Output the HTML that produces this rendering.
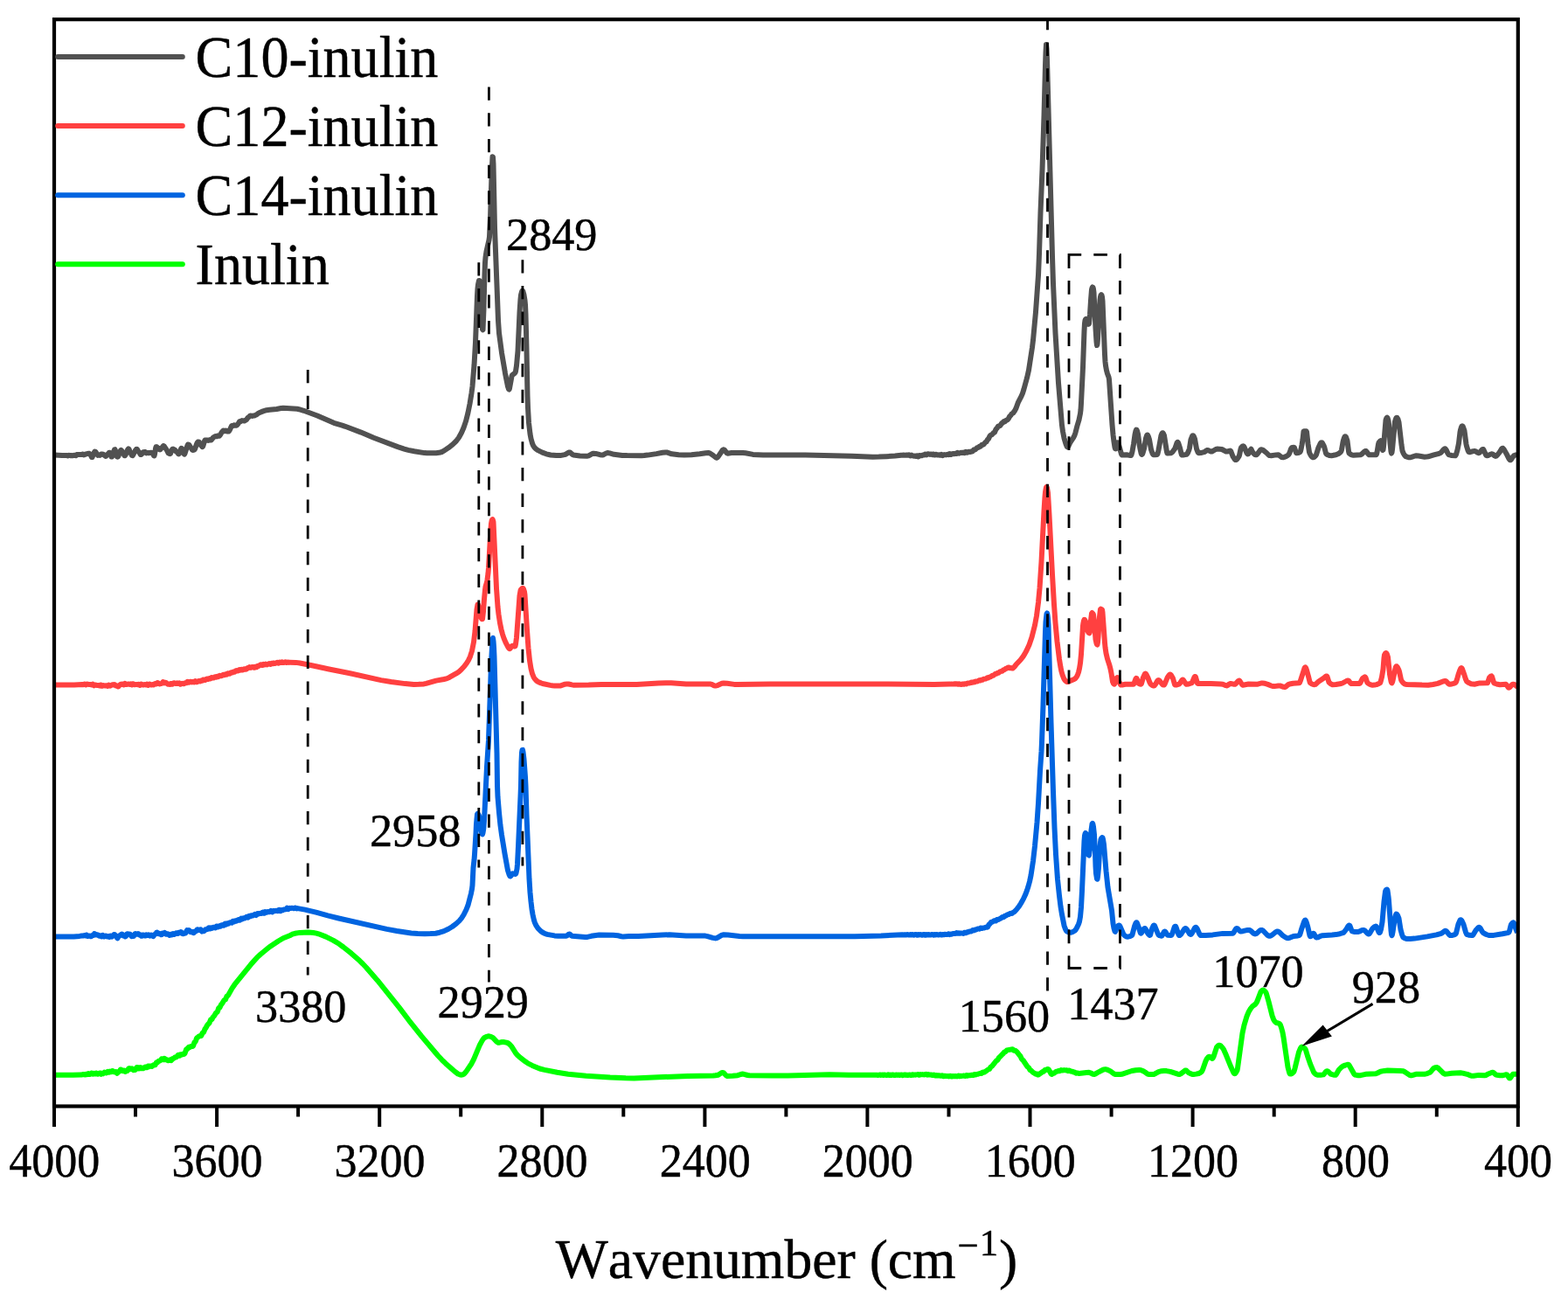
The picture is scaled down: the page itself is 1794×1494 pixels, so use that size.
<!DOCTYPE html>
<html lang="en"><head><meta charset="utf-8"><title>FTIR spectra</title>
<style>html,body{margin:0;padding:0;background:#fff}svg{display:block}text{font-family:"Liberation Serif",serif;fill:#000;stroke:#000;stroke-width:0.45px;stroke-linejoin:round}</style>
</head><body>
<svg width="1794" height="1494" viewBox="0 0 1794 1494">
<rect x="0" y="0" width="1794" height="1494" fill="#ffffff"/>
<path d="M62.0,1265.5 V1289.0 M155.0,1265.5 V1277.5 M248.1,1265.5 V1289.0 M341.1,1265.5 V1277.5 M434.2,1265.5 V1289.0 M527.2,1265.5 V1277.5 M620.3,1265.5 V1289.0 M713.3,1265.5 V1277.5 M806.4,1265.5 V1289.0 M899.4,1265.5 V1277.5 M992.4,1265.5 V1289.0 M1085.5,1265.5 V1277.5 M1178.5,1265.5 V1289.0 M1271.6,1265.5 V1277.5 M1364.6,1265.5 V1289.0 M1457.7,1265.5 V1277.5 M1550.7,1265.5 V1289.0 M1643.8,1265.5 V1277.5 M1736.8,1265.5 V1289.0" stroke="#000" stroke-width="4.0" fill="none"/>
<g font-size="54.3" text-anchor="middle">
<text transform="translate(62.3,1346) scale(0.958,1)">4000</text>
<text transform="translate(248.4,1346) scale(0.958,1)">3600</text>
<text transform="translate(434.5,1346) scale(0.958,1)">3200</text>
<text transform="translate(620.6,1346) scale(0.958,1)">2800</text>
<text transform="translate(806.7,1346) scale(0.958,1)">2400</text>
<text transform="translate(992.7,1346) scale(0.958,1)">2000</text>
<text transform="translate(1178.8,1346) scale(0.958,1)">1600</text>
<text transform="translate(1364.9,1346) scale(0.958,1)">1200</text>
<text transform="translate(1551.0,1346) scale(0.958,1)">800</text>
<text transform="translate(1737.1,1346) scale(0.958,1)">400</text>
</g>
<text x="635.7" y="1462.1" font-size="63.7" style="font-kerning:none">Wavenumber (cm<tspan font-size="43" x="1095.6 1120.8" y="1438.6 1436">−1</tspan><tspan x="1143.1" y="1462.1">)</tspan></text>
<path d="M62.5,520.6 L71.0,521.1 L74.0,521.1 L76.0,520.9 L77.5,521.4 L79.0,520.8 L80.5,521.2 L81.5,521.0 L83.5,521.2 L85.5,520.7 L86.5,521.3 L87.0,521.2 L88.0,520.1 L88.5,519.9 L89.5,520.1 L90.5,519.9 L93.0,520.1 L94.5,519.5 L95.0,519.6 L96.0,520.4 L96.5,520.3 L97.5,519.6 L98.5,519.6 L100.0,518.9 L101.5,518.7 L102.0,518.8 L103.0,519.7 L104.0,521.1 L105.0,523.1 L105.5,523.1 L107.5,518.0 L108.5,516.6 L109.0,516.7 L109.5,517.1 L111.5,520.4 L112.0,520.9 L113.5,520.6 L114.5,520.9 L116.0,519.5 L116.5,519.4 L118.0,519.7 L120.5,521.7 L121.0,521.9 L121.5,521.6 L122.5,520.1 L124.0,519.0 L125.0,517.7 L125.5,517.7 L127.5,522.5 L128.0,522.6 L128.5,521.7 L130.5,515.5 L131.0,514.4 L131.5,514.2 L132.0,515.4 L133.5,521.3 L134.0,522.4 L134.5,522.7 L135.0,522.4 L135.5,521.6 L137.5,516.3 L138.0,515.3 L138.5,514.9 L139.0,515.3 L140.5,517.2 L142.0,520.6 L142.5,521.3 L143.0,521.2 L144.0,519.6 L146.0,514.7 L146.5,513.9 L147.0,513.4 L147.5,513.7 L149.0,517.4 L151.0,521.0 L151.5,521.3 L152.0,520.9 L152.5,520.0 L155.0,515.0 L156.0,513.9 L156.5,513.7 L157.0,514.2 L158.0,516.1 L159.5,517.8 L160.5,519.6 L161.0,520.1 L161.5,520.0 L162.0,519.6 L164.0,517.1 L165.5,516.9 L166.0,517.0 L167.0,518.1 L167.5,518.4 L168.5,517.9 L169.0,517.9 L170.0,518.3 L173.0,517.8 L174.0,517.9 L175.0,519.1 L176.0,521.2 L176.5,521.4 L177.0,519.5 L178.0,513.1 L178.5,511.2 L179.0,511.1 L179.5,511.4 L182.0,513.9 L183.0,514.5 L183.5,514.2 L184.5,512.6 L185.5,511.8 L187.0,510.0 L187.5,510.1 L188.0,510.8 L191.0,515.1 L192.5,518.2 L193.5,518.9 L194.5,519.2 L195.0,518.8 L196.5,515.1 L197.0,514.2 L197.5,513.7 L198.0,513.6 L200.0,514.7 L201.5,516.6 L203.0,517.6 L204.0,519.1 L204.5,519.4 L205.0,519.0 L207.0,513.6 L207.5,512.8 L208.0,513.0 L208.5,513.9 L210.5,519.3 L211.0,519.6 L211.5,518.8 L214.5,509.5 L215.0,508.5 L215.5,508.4 L216.5,509.2 L220.0,514.6 L220.5,514.9 L222.0,514.8 L222.5,514.5 L223.0,513.7 L225.0,507.9 L226.0,506.0 L226.5,505.5 L227.0,505.4 L227.5,505.4 L228.0,505.9 L229.5,509.0 L231.5,511.1 L232.0,510.9 L232.5,509.7 L234.0,504.5 L234.5,503.6 L235.0,503.4 L236.0,503.7 L237.5,503.4 L238.5,503.9 L240.0,503.1 L241.0,503.6 L241.5,503.6 L244.0,500.5 L246.0,499.2 L246.5,499.0 L247.5,499.3 L248.0,499.3 L249.0,498.5 L249.5,498.4 L250.5,498.8 L251.0,498.7 L252.0,497.4 L253.5,494.8 L255.5,492.5 L256.0,492.5 L257.0,493.2 L258.5,492.6 L260.0,493.6 L261.5,493.6 L262.0,493.2 L263.0,491.6 L265.0,487.2 L265.5,486.9 L266.5,487.1 L267.5,486.4 L268.0,486.3 L269.5,486.8 L270.5,486.7 L271.0,486.4 L272.5,484.8 L274.0,482.3 L274.5,481.9 L275.5,482.1 L277.0,481.1 L279.5,481.5 L282.0,480.2 L283.5,477.9 L285.0,476.8 L286.0,475.7 L286.5,475.5 L288.5,475.9 L289.0,475.9 L290.0,475.4 L291.5,475.4 L292.5,474.7 L294.0,474.1 L295.5,472.8 L296.5,472.2 L301.0,470.4 L305.0,469.2 L308.5,468.7 L316.5,468.0 L321.5,467.0 L324.0,466.8 L340.0,467.8 L342.0,468.2 L347.5,469.8 L363.0,475.5 L382.0,483.8 L391.5,486.6 L395.0,487.8 L413.0,494.6 L427.5,500.8 L455.0,511.1 L462.5,513.6 L467.0,514.9 L474.0,516.3 L485.5,518.1 L488.5,518.3 L499.0,518.2 L502.5,517.8 L505.5,517.0 L507.0,516.2 L513.0,512.3 L518.0,508.4 L522.0,504.5 L525.0,500.5 L528.0,495.0 L530.5,489.2 L533.0,481.9 L535.5,472.0 L537.5,462.0 L539.5,449.7 L540.5,442.1 L542.5,417.8 L544.0,392.0 L546.0,338.6 L546.5,330.1 L547.0,325.6 L548.0,320.9 L548.5,320.9 L549.5,328.9 L551.5,369.2 L552.0,376.7 L552.5,377.3 L553.5,353.0 L554.5,313.4 L555.0,300.2 L555.5,294.5 L556.5,287.6 L559.5,274.5 L560.0,271.0 L561.0,249.9 L562.5,200.1 L563.5,179.3 L564.0,179.7 L564.5,187.8 L566.0,260.6 L570.0,366.6 L571.0,381.0 L574.0,403.4 L578.0,427.1 L581.0,442.1 L582.0,445.2 L582.5,445.5 L583.0,444.3 L585.5,430.4 L586.0,429.2 L589.0,426.8 L589.5,426.2 L590.0,424.8 L591.0,418.3 L592.5,401.6 L594.5,357.4 L595.5,342.3 L596.0,337.6 L597.0,333.7 L597.5,332.8 L598.0,332.7 L598.5,333.7 L599.5,337.4 L600.5,343.6 L601.0,348.7 L601.5,359.6 L602.5,400.2 L603.5,452.7 L604.0,466.3 L605.0,483.5 L606.5,496.4 L607.5,501.8 L609.0,507.1 L610.0,509.6 L611.5,511.9 L613.0,513.4 L615.0,514.9 L620.5,517.6 L625.0,519.3 L630.0,520.5 L636.5,521.1 L641.0,521.1 L646.0,520.1 L647.5,519.6 L650.0,517.9 L651.5,517.4 L652.5,517.7 L655.0,519.9 L656.0,520.5 L663.5,521.4 L671.5,521.8 L673.5,521.4 L677.5,519.2 L679.0,518.7 L681.5,518.9 L686.5,520.2 L689.0,520.5 L690.5,520.2 L693.5,518.5 L695.0,518.0 L697.5,518.4 L702.5,519.8 L712.0,520.9 L717.5,521.1 L734.0,521.2 L737.0,521.1 L741.0,520.6 L751.0,519.1 L758.0,517.8 L761.5,517.4 L763.5,517.6 L768.5,519.3 L776.5,520.2 L783.0,520.5 L791.0,520.2 L800.5,519.2 L807.5,518.2 L810.5,518.0 L811.5,518.2 L812.5,518.6 L816.0,521.0 L818.5,523.0 L820.0,523.7 L820.5,523.5 L821.5,522.6 L826.5,515.2 L827.5,514.4 L828.0,514.3 L829.0,514.9 L831.5,518.1 L832.5,518.7 L837.0,518.0 L850.0,518.0 L853.0,518.3 L861.5,519.9 L873.0,520.4 L921.5,520.6 L974.5,521.8 L998.5,522.7 L1005.5,522.6 L1014.0,522.2 L1024.0,521.6 L1031.0,520.8 L1032.5,520.8 L1033.5,520.5 L1035.5,520.7 L1037.5,520.5 L1039.0,520.7 L1040.0,520.3 L1041.5,521.5 L1042.5,520.7 L1043.0,520.6 L1044.0,521.3 L1045.5,521.7 L1047.0,521.5 L1048.0,521.9 L1049.0,521.3 L1049.5,521.4 L1050.5,522.4 L1051.0,522.2 L1052.0,521.1 L1054.5,521.2 L1056.0,520.5 L1057.0,520.6 L1057.5,520.4 L1058.5,519.5 L1060.0,520.4 L1061.5,519.2 L1064.0,519.9 L1065.0,519.6 L1065.5,519.6 L1066.5,520.1 L1067.5,519.4 L1068.0,519.4 L1069.0,520.6 L1069.5,520.6 L1070.5,519.9 L1071.0,519.8 L1073.0,520.6 L1074.5,520.3 L1075.5,520.8 L1076.0,520.7 L1077.0,519.9 L1078.5,521.1 L1080.0,520.2 L1080.5,520.1 L1082.5,520.4 L1083.5,519.9 L1084.0,519.9 L1085.0,520.2 L1086.0,519.2 L1086.5,519.1 L1087.5,520.0 L1088.0,520.0 L1089.0,519.3 L1090.0,519.0 L1091.5,519.3 L1093.0,518.7 L1094.0,519.1 L1094.5,518.9 L1095.5,517.9 L1097.0,518.8 L1099.5,517.7 L1101.0,518.1 L1102.0,517.6 L1103.5,518.1 L1104.5,517.1 L1105.0,516.9 L1106.0,517.7 L1106.5,517.8 L1108.5,516.8 L1109.0,516.7 L1110.0,517.1 L1111.5,516.2 L1112.5,516.5 L1113.0,516.1 L1114.0,514.6 L1114.5,514.4 L1115.5,514.5 L1116.0,514.2 L1118.0,512.2 L1119.5,511.9 L1120.5,510.8 L1122.0,510.7 L1123.0,509.2 L1123.5,508.7 L1124.5,508.7 L1125.5,508.2 L1127.5,505.9 L1128.5,505.4 L1130.0,502.8 L1131.0,502.1 L1132.5,498.8 L1133.0,498.2 L1135.0,497.1 L1136.5,495.3 L1137.5,494.9 L1138.0,494.5 L1139.5,491.0 L1140.5,490.1 L1142.0,487.7 L1144.0,487.1 L1144.5,486.7 L1146.0,484.3 L1147.0,483.8 L1148.0,482.5 L1148.5,482.1 L1149.5,482.5 L1150.0,482.2 L1151.0,481.0 L1153.0,480.0 L1154.0,478.7 L1155.0,476.6 L1156.5,475.0 L1157.5,473.6 L1159.0,472.6 L1161.0,469.9 L1162.5,467.0 L1165.0,460.1 L1168.5,453.4 L1170.0,449.8 L1171.5,445.0 L1175.0,432.3 L1177.0,423.5 L1181.0,397.4 L1182.0,389.2 L1185.0,357.0 L1188.0,314.8 L1189.0,290.1 L1190.5,242.8 L1192.5,194.4 L1194.5,132.4 L1196.0,75.0 L1196.5,60.0 L1197.0,50.9 L1197.5,55.7 L1198.0,68.2 L1204.0,293.5 L1205.0,324.5 L1207.5,381.0 L1211.0,438.0 L1215.0,486.4 L1216.0,493.5 L1217.5,501.3 L1219.5,508.0 L1220.5,510.5 L1221.0,511.2 L1221.5,511.4 L1222.0,511.0 L1222.5,510.3 L1224.5,506.0 L1228.0,500.9 L1229.5,497.9 L1230.5,494.8 L1232.5,487.0 L1234.5,480.4 L1236.0,473.0 L1236.5,468.9 L1237.0,461.0 L1239.0,420.4 L1240.5,378.9 L1241.0,369.9 L1241.5,366.4 L1242.0,365.3 L1242.5,364.9 L1243.0,365.4 L1243.5,366.3 L1245.5,370.8 L1246.0,370.3 L1247.0,360.0 L1248.0,344.0 L1249.0,331.3 L1249.5,329.4 L1250.0,328.5 L1250.5,328.8 L1251.0,330.8 L1251.5,334.7 L1253.5,375.5 L1254.5,390.8 L1255.0,395.1 L1255.5,393.5 L1256.0,387.3 L1258.5,343.3 L1259.0,339.6 L1259.5,337.9 L1260.0,337.1 L1260.5,337.7 L1261.0,339.8 L1261.5,344.4 L1264.0,405.3 L1264.5,413.8 L1265.0,418.1 L1266.0,423.7 L1267.0,427.4 L1268.5,431.3 L1269.0,434.1 L1272.5,485.7 L1273.5,497.3 L1274.5,505.3 L1275.5,511.7 L1276.0,513.3 L1276.5,513.4 L1277.0,512.1 L1278.5,506.3 L1279.0,506.2 L1279.5,507.1 L1280.0,508.7 L1283.0,519.4 L1283.5,520.4 L1284.0,520.6 L1289.0,520.3 L1293.5,521.1 L1294.0,521.1 L1294.5,520.2 L1295.5,516.4 L1297.0,507.9 L1298.5,497.1 L1299.5,492.8 L1300.0,491.6 L1300.5,491.7 L1301.0,492.8 L1302.0,496.5 L1303.5,507.9 L1304.5,513.5 L1305.5,518.2 L1306.0,519.6 L1306.5,519.9 L1307.0,519.4 L1307.5,518.3 L1309.0,513.2 L1311.0,501.5 L1312.0,498.4 L1312.5,497.5 L1313.0,497.5 L1314.0,499.5 L1315.0,502.8 L1317.0,514.3 L1318.5,518.6 L1319.5,520.2 L1321.5,520.2 L1324.0,519.9 L1324.5,519.1 L1325.5,514.9 L1328.5,498.1 L1329.5,495.8 L1330.0,495.2 L1330.5,495.3 L1331.0,496.0 L1332.0,498.3 L1335.0,516.9 L1335.5,518.5 L1336.0,518.6 L1340.0,518.2 L1341.5,517.1 L1344.0,513.6 L1344.5,512.6 L1346.5,506.8 L1347.0,505.9 L1347.5,505.8 L1348.0,506.4 L1348.5,507.6 L1350.0,512.3 L1351.5,518.7 L1352.0,520.2 L1352.5,520.6 L1353.5,520.6 L1357.5,519.9 L1358.0,519.5 L1359.0,518.0 L1360.5,514.3 L1361.0,512.5 L1362.5,502.8 L1364.0,499.0 L1364.5,498.4 L1365.0,498.2 L1365.5,498.6 L1366.0,499.5 L1367.0,502.1 L1369.0,513.3 L1370.5,517.1 L1371.0,517.9 L1371.5,518.2 L1374.0,518.1 L1377.5,517.2 L1378.5,516.7 L1380.5,515.3 L1381.5,514.9 L1382.5,515.1 L1385.0,516.4 L1386.5,516.5 L1388.0,515.8 L1391.0,514.0 L1392.5,513.6 L1398.0,514.0 L1402.0,516.2 L1403.0,516.6 L1404.0,516.5 L1407.5,515.6 L1408.0,515.9 L1408.5,516.7 L1410.5,522.0 L1411.0,522.9 L1413.0,525.8 L1413.5,526.1 L1414.0,526.1 L1414.5,525.9 L1415.5,525.1 L1417.5,522.1 L1418.0,520.8 L1419.5,513.6 L1420.0,512.1 L1421.5,510.6 L1422.5,510.2 L1423.0,510.5 L1423.5,511.3 L1426.5,518.2 L1427.0,519.0 L1427.5,519.4 L1428.0,519.3 L1428.5,518.8 L1430.5,514.9 L1431.5,513.7 L1432.5,516.1 L1434.0,518.4 L1435.5,519.8 L1437.0,520.3 L1437.5,520.2 L1438.5,519.5 L1442.0,514.8 L1443.0,514.3 L1443.5,514.3 L1444.5,514.6 L1446.0,515.6 L1449.0,518.0 L1451.5,520.5 L1452.5,521.1 L1454.5,521.2 L1460.0,520.4 L1462.5,520.3 L1463.5,520.8 L1466.5,523.1 L1468.0,523.2 L1469.5,522.9 L1471.0,522.3 L1473.0,521.2 L1474.5,520.0 L1475.5,517.9 L1477.0,513.6 L1478.0,511.9 L1480.5,511.8 L1481.0,512.1 L1483.0,518.1 L1483.5,518.3 L1485.0,518.1 L1486.5,517.6 L1487.5,517.1 L1488.0,516.0 L1488.5,514.1 L1489.5,509.0 L1490.5,502.8 L1491.5,493.7 L1492.0,493.2 L1494.5,493.2 L1495.0,493.9 L1496.5,507.4 L1498.0,517.2 L1498.5,518.6 L1500.0,521.4 L1501.0,522.6 L1502.0,523.2 L1502.5,523.3 L1503.5,522.9 L1505.5,521.1 L1506.0,520.0 L1508.5,512.0 L1510.5,507.7 L1511.5,506.4 L1512.0,506.2 L1512.5,506.4 L1513.0,506.9 L1514.5,509.6 L1515.5,512.5 L1517.0,518.6 L1517.5,519.3 L1518.5,520.0 L1521.0,521.1 L1523.5,521.2 L1528.5,520.3 L1531.5,519.0 L1533.0,517.9 L1534.5,516.2 L1535.0,514.6 L1536.5,505.7 L1537.0,503.8 L1538.0,500.8 L1538.5,499.7 L1539.0,499.2 L1539.5,499.4 L1540.0,500.1 L1541.5,504.3 L1543.0,516.2 L1543.5,518.3 L1545.5,519.9 L1547.0,520.5 L1548.5,520.7 L1556.5,520.3 L1558.0,519.5 L1561.0,516.6 L1562.0,516.0 L1562.5,515.9 L1563.0,516.0 L1563.5,516.5 L1565.5,519.5 L1566.5,520.3 L1574.5,520.3 L1575.0,519.6 L1575.5,517.5 L1577.0,508.3 L1577.5,506.4 L1579.0,504.5 L1579.5,504.2 L1580.0,504.9 L1581.5,513.2 L1582.0,515.0 L1582.5,514.6 L1583.0,510.8 L1585.5,480.7 L1586.0,479.1 L1586.5,478.1 L1587.0,477.7 L1587.5,478.2 L1588.0,479.5 L1588.5,481.5 L1589.0,485.3 L1590.5,506.9 L1591.5,516.6 L1592.0,518.6 L1592.5,517.5 L1593.0,514.1 L1596.0,482.4 L1597.0,479.2 L1597.5,478.2 L1598.0,477.7 L1598.5,477.9 L1599.5,479.6 L1600.5,483.0 L1603.5,508.8 L1604.5,515.6 L1605.5,518.2 L1607.0,520.8 L1608.5,522.2 L1610.5,522.9 L1612.0,523.2 L1613.5,523.2 L1615.0,522.9 L1619.0,521.5 L1620.5,521.3 L1623.0,521.5 L1630.0,522.7 L1632.0,522.6 L1634.0,522.3 L1640.5,520.4 L1645.5,519.1 L1648.0,518.2 L1649.0,517.4 L1651.5,514.3 L1652.5,513.5 L1653.0,513.3 L1653.5,513.3 L1654.5,514.4 L1656.5,518.6 L1657.5,520.1 L1658.5,520.4 L1661.0,521.0 L1665.0,521.3 L1665.5,520.8 L1666.0,519.9 L1667.5,514.7 L1669.0,507.2 L1670.5,494.4 L1671.0,491.9 L1672.0,488.5 L1672.5,487.5 L1673.0,487.2 L1673.5,487.5 L1674.0,488.4 L1675.5,492.8 L1677.5,508.0 L1678.0,510.4 L1679.5,515.2 L1680.5,517.0 L1681.0,517.3 L1682.0,517.2 L1685.5,516.1 L1687.0,515.9 L1688.0,516.1 L1691.0,518.0 L1692.0,518.3 L1693.0,517.7 L1695.5,514.5 L1696.5,513.9 L1697.0,514.0 L1697.5,514.6 L1700.0,520.3 L1700.5,521.0 L1701.0,521.3 L1702.5,521.0 L1705.5,519.6 L1707.0,519.3 L1708.0,519.6 L1710.0,521.4 L1711.0,521.9 L1712.0,521.6 L1713.5,520.1 L1715.5,517.7 L1718.0,513.4 L1719.0,512.7 L1719.5,512.8 L1720.5,513.8 L1723.5,518.9 L1726.5,524.9 L1727.5,526.1 L1728.0,526.3 L1728.5,526.2 L1729.0,525.7 L1731.0,522.5 L1732.0,521.3 L1734.0,520.5 L1736.0,520.3" fill="none" stroke="#515151" stroke-width="6.0" stroke-linejoin="round" stroke-linecap="butt"/>
<path d="M62.5,783.5 L85.0,783.5 L94.0,783.1 L95.5,783.2 L96.5,782.6 L97.0,782.6 L98.0,783.4 L98.5,783.4 L99.5,782.6 L100.0,782.6 L102.0,783.0 L103.5,782.9 L104.5,783.5 L105.0,783.3 L106.0,782.6 L107.5,784.3 L109.0,783.5 L111.5,784.1 L112.5,783.9 L113.5,784.4 L114.0,784.5 L115.0,783.5 L115.5,783.5 L116.5,784.8 L117.0,784.8 L118.0,784.1 L118.5,784.1 L120.5,784.5 L122.0,784.2 L123.0,784.9 L123.5,784.7 L124.5,783.6 L126.0,784.7 L128.0,783.5 L129.0,783.3 L130.0,783.4 L131.0,783.0 L131.5,783.3 L132.5,784.5 L133.5,784.2 L134.0,784.4 L135.0,785.5 L135.5,785.4 L137.0,783.6 L138.0,782.8 L139.0,783.0 L140.0,782.6 L140.5,782.6 L141.5,783.4 L142.0,783.2 L143.0,782.0 L144.5,783.1 L147.0,782.4 L148.5,782.9 L149.5,782.4 L150.5,783.3 L151.0,783.5 L152.0,782.3 L152.5,782.2 L153.5,783.1 L154.0,783.3 L156.5,782.9 L157.5,783.3 L158.5,782.8 L159.0,782.9 L160.0,783.9 L160.5,783.7 L161.5,782.6 L163.5,783.5 L164.5,783.4 L165.5,782.9 L166.5,783.4 L167.0,783.4 L168.0,782.7 L169.0,783.7 L169.5,783.9 L170.5,782.8 L171.0,782.6 L173.0,783.5 L173.5,783.5 L174.5,783.0 L175.0,783.0 L176.0,783.4 L177.0,782.2 L177.5,782.0 L178.5,782.5 L180.0,781.1 L180.5,781.1 L182.5,782.4 L183.0,782.4 L184.0,781.9 L185.0,782.0 L186.5,780.1 L187.0,780.3 L188.0,781.3 L189.0,780.7 L189.5,780.7 L192.0,782.7 L193.0,782.4 L194.5,783.0 L195.5,782.0 L196.0,781.9 L197.0,782.8 L197.5,782.6 L198.5,781.5 L199.5,781.3 L201.0,781.9 L201.5,781.9 L202.5,781.4 L203.5,782.1 L204.0,782.0 L205.0,781.3 L206.5,782.7 L208.5,781.8 L210.5,782.3 L211.5,781.4 L212.0,781.2 L213.0,781.3 L214.0,780.0 L214.5,779.8 L215.5,780.7 L216.0,780.7 L218.0,779.7 L218.5,779.7 L219.5,780.4 L220.0,780.3 L221.0,779.7 L222.0,780.4 L222.5,780.2 L223.5,779.2 L225.0,780.3 L225.5,780.1 L227.5,778.9 L229.0,779.4 L230.0,778.5 L230.5,778.5 L231.0,778.8 L231.5,778.8 L232.5,777.6 L233.0,777.4 L234.0,778.1 L234.5,778.1 L235.5,777.5 L236.5,776.6 L237.0,776.5 L238.0,777.0 L239.5,776.0 L240.5,776.5 L241.0,776.3 L242.0,775.1 L242.5,775.1 L243.5,775.6 L244.0,775.6 L244.5,775.4 L246.0,774.2 L247.5,774.7 L248.5,773.8 L250.0,774.2 L251.0,773.0 L251.5,772.8 L252.5,773.2 L253.5,773.3 L254.0,773.0 L255.0,772.0 L255.5,771.8 L256.5,772.3 L258.0,771.3 L259.0,771.8 L259.5,771.6 L260.5,770.4 L261.0,770.3 L262.5,770.7 L263.0,770.7 L264.5,769.2 L265.0,769.2 L265.5,769.5 L266.0,769.5 L267.0,768.5 L267.5,768.5 L268.0,768.8 L268.5,768.8 L270.0,767.2 L270.5,767.1 L272.0,767.5 L272.5,767.4 L273.5,766.2 L274.0,766.0 L275.0,766.6 L276.0,765.9 L276.5,765.8 L277.5,766.5 L278.0,766.4 L279.0,765.4 L279.5,765.3 L281.5,765.8 L282.0,765.5 L283.0,764.1 L283.5,764.0 L284.0,764.2 L284.5,764.1 L285.5,763.1 L287.0,763.9 L288.0,763.2 L289.0,762.9 L289.5,763.0 L290.5,763.7 L291.0,763.8 L292.0,762.8 L292.5,762.7 L293.5,763.2 L295.0,761.8 L296.0,762.0 L297.5,760.8 L298.5,760.3 L299.0,760.4 L300.0,761.1 L300.5,760.9 L301.5,759.9 L302.5,760.4 L303.0,760.4 L304.0,759.6 L305.5,760.4 L307.5,759.2 L308.0,759.1 L309.0,759.8 L309.5,760.0 L310.5,758.9 L311.0,758.8 L312.0,759.3 L313.0,758.5 L313.5,758.4 L314.5,759.0 L315.0,759.0 L317.0,757.8 L317.5,757.8 L318.5,758.7 L319.0,758.6 L320.0,757.6 L321.0,758.0 L321.5,758.0 L322.5,757.3 L324.0,758.0 L325.0,757.9 L326.5,757.2 L328.0,758.0 L329.0,757.6 L329.5,757.6 L330.5,757.9 L331.5,757.7 L338.5,757.9 L343.0,758.5 L358.0,761.5 L376.5,765.5 L400.5,770.2 L436.0,778.1 L447.5,780.0 L463.5,782.1 L473.5,782.9 L479.0,782.8 L485.0,782.4 L487.5,781.8 L499.0,778.6 L508.0,777.0 L511.5,776.1 L514.5,774.7 L522.0,770.4 L525.0,768.4 L527.5,766.2 L531.0,762.5 L534.0,758.5 L536.0,755.2 L538.0,750.9 L540.0,744.7 L542.0,734.5 L543.5,722.2 L545.5,697.2 L546.5,691.5 L547.0,691.7 L547.5,693.4 L549.5,703.5 L550.0,705.3 L551.0,707.7 L551.5,708.3 L552.0,708.1 L553.0,699.5 L554.0,685.2 L555.0,674.7 L555.5,671.2 L557.0,666.1 L557.5,663.5 L558.5,655.7 L559.0,649.7 L561.5,605.2 L562.0,599.0 L562.5,596.2 L563.0,594.5 L563.5,594.1 L564.0,595.2 L564.5,597.3 L568.0,673.1 L569.5,694.1 L570.5,702.9 L572.0,712.6 L573.5,719.9 L575.0,725.6 L576.5,730.1 L578.5,734.9 L581.5,740.7 L582.5,741.9 L583.0,742.2 L583.5,742.1 L585.5,739.0 L586.0,738.7 L589.0,739.5 L589.5,739.1 L590.0,736.9 L591.0,729.3 L594.5,681.5 L595.5,675.7 L596.0,674.4 L597.5,673.0 L598.0,672.8 L598.5,673.0 L599.0,673.9 L600.0,677.0 L600.5,680.4 L603.0,720.6 L604.5,741.3 L606.0,755.5 L607.5,764.8 L609.0,770.7 L610.5,774.4 L611.5,776.1 L613.0,777.9 L615.0,779.6 L616.5,780.4 L619.0,781.4 L622.0,782.3 L629.5,783.9 L632.0,784.3 L634.5,784.5 L641.5,784.4 L646.5,782.7 L648.5,782.4 L650.5,782.5 L654.5,783.4 L656.5,783.7 L673.5,783.6 L688.0,782.9 L720.0,782.9 L728.5,783.0 L753.5,781.4 L762.0,781.2 L768.0,781.3 L785.0,782.4 L812.5,782.4 L814.0,782.8 L817.0,784.3 L818.5,784.6 L821.0,784.1 L826.0,781.8 L828.0,781.5 L832.0,781.8 L840.0,782.9 L843.5,783.1 L881.0,782.4 L1009.5,782.4 L1069.0,783.1 L1087.0,782.6 L1088.5,782.4 L1090.0,782.6 L1092.5,782.2 L1094.0,782.6 L1095.0,782.3 L1096.5,782.8 L1097.5,782.3 L1099.5,783.0 L1100.5,782.8 L1101.5,782.4 L1103.0,782.8 L1104.0,782.3 L1104.5,782.2 L1105.5,782.4 L1107.0,781.4 L1109.0,781.6 L1111.0,780.6 L1112.0,780.9 L1112.5,780.8 L1113.5,780.2 L1114.5,780.4 L1115.0,780.3 L1116.0,779.5 L1118.5,779.4 L1120.0,778.3 L1121.5,778.5 L1122.5,777.8 L1124.0,777.8 L1125.5,776.7 L1128.0,776.5 L1129.5,775.3 L1130.5,775.5 L1132.0,774.5 L1133.0,774.5 L1133.5,774.2 L1135.0,773.0 L1137.0,772.5 L1138.5,771.0 L1140.0,770.8 L1141.0,769.9 L1142.5,769.7 L1144.5,768.1 L1146.5,767.8 L1148.0,766.3 L1149.0,766.3 L1150.5,765.0 L1151.5,764.8 L1153.5,763.4 L1154.5,763.5 L1155.5,764.2 L1156.0,764.3 L1157.0,764.1 L1158.5,764.6 L1159.0,764.3 L1160.5,762.9 L1162.5,760.3 L1167.5,755.0 L1170.5,751.1 L1172.5,747.9 L1174.5,744.3 L1177.5,737.7 L1180.5,729.1 L1184.0,715.3 L1186.0,704.5 L1188.0,689.1 L1189.5,673.0 L1191.5,642.9 L1194.5,584.1 L1195.5,568.5 L1196.0,563.1 L1196.5,560.0 L1197.0,557.7 L1197.5,556.9 L1198.0,558.0 L1199.0,563.9 L1200.5,589.1 L1204.0,657.4 L1206.0,691.5 L1207.5,712.4 L1209.5,733.9 L1212.0,754.2 L1213.5,763.4 L1214.5,768.3 L1215.5,771.8 L1217.0,775.8 L1218.0,777.6 L1219.0,778.8 L1220.5,780.1 L1221.5,780.1 L1222.5,779.8 L1225.0,778.6 L1228.5,777.3 L1230.0,776.4 L1231.0,775.3 L1232.0,773.8 L1233.0,771.8 L1234.0,769.0 L1235.0,764.8 L1236.0,758.6 L1237.0,748.4 L1239.0,716.0 L1239.5,712.5 L1240.0,710.1 L1240.5,708.9 L1241.0,709.0 L1241.5,709.6 L1243.0,713.3 L1244.5,721.9 L1245.5,723.7 L1246.5,724.4 L1247.0,722.9 L1248.0,709.9 L1249.0,701.8 L1249.5,701.0 L1250.5,702.0 L1251.0,703.0 L1252.0,711.1 L1253.5,731.4 L1254.5,735.9 L1255.0,737.2 L1255.5,737.5 L1256.0,734.5 L1256.5,728.9 L1258.0,705.6 L1259.0,697.1 L1259.5,696.6 L1260.5,697.1 L1261.0,697.5 L1261.5,700.6 L1264.0,735.1 L1264.5,740.5 L1265.5,747.2 L1267.0,753.6 L1269.5,761.3 L1270.5,765.2 L1271.5,770.1 L1273.0,779.7 L1274.0,781.9 L1274.5,782.6 L1275.0,782.7 L1275.5,781.6 L1276.5,777.9 L1277.5,775.8 L1278.0,775.1 L1278.5,775.0 L1279.0,775.9 L1280.0,779.0 L1281.0,781.2 L1282.0,783.1 L1282.5,783.6 L1284.0,783.5 L1287.5,782.8 L1296.5,782.8 L1297.0,782.6 L1297.5,781.8 L1299.5,776.4 L1300.0,775.8 L1300.5,776.1 L1301.0,777.3 L1302.5,781.6 L1304.0,782.5 L1305.5,782.7 L1306.0,781.9 L1308.0,774.9 L1309.5,771.7 L1310.0,770.9 L1310.5,770.6 L1311.0,770.8 L1312.0,772.4 L1313.5,775.6 L1315.5,780.8 L1316.5,782.6 L1318.5,784.1 L1320.0,784.5 L1320.5,784.4 L1321.0,784.1 L1322.0,782.7 L1324.0,779.2 L1325.0,778.2 L1325.5,778.1 L1326.0,778.2 L1327.0,779.1 L1329.5,782.3 L1330.5,783.3 L1331.5,783.6 L1332.0,783.4 L1333.0,781.7 L1335.5,775.5 L1337.5,772.4 L1338.5,771.5 L1339.0,771.5 L1340.0,772.4 L1342.0,776.0 L1344.0,783.0 L1344.5,783.6 L1346.5,783.4 L1349.0,782.7 L1350.0,781.7 L1352.0,778.5 L1353.0,777.6 L1353.5,777.6 L1354.0,778.0 L1356.5,782.0 L1357.5,782.8 L1360.0,782.5 L1363.0,781.5 L1363.5,781.3 L1364.0,780.7 L1366.5,774.7 L1367.0,774.0 L1367.5,773.9 L1368.0,774.7 L1370.0,781.6 L1370.5,782.0 L1385.5,782.1 L1396.5,782.6 L1399.0,782.8 L1402.0,784.1 L1403.5,784.4 L1404.5,784.0 L1406.5,782.5 L1407.5,782.1 L1409.0,782.1 L1412.0,782.7 L1413.0,782.7 L1414.0,782.0 L1416.5,779.1 L1417.5,778.6 L1418.0,778.6 L1418.5,779.0 L1421.0,783.0 L1421.5,783.5 L1422.0,783.7 L1428.5,782.5 L1439.0,782.7 L1443.0,781.5 L1444.5,781.4 L1446.5,781.7 L1450.5,782.9 L1454.5,784.5 L1456.0,785.0 L1458.0,785.1 L1462.5,784.5 L1464.5,784.4 L1468.5,785.8 L1470.0,786.0 L1470.5,785.9 L1471.5,785.3 L1474.0,783.1 L1475.5,782.5 L1479.5,781.7 L1486.5,781.3 L1487.0,780.8 L1488.0,778.4 L1492.5,764.3 L1493.0,763.5 L1493.5,763.3 L1494.0,763.9 L1495.0,766.6 L1497.0,773.7 L1498.5,779.9 L1499.0,781.1 L1500.5,782.2 L1502.5,783.0 L1504.0,783.2 L1505.0,782.9 L1508.5,779.8 L1514.5,775.7 L1516.5,774.0 L1517.5,773.5 L1518.0,773.4 L1518.5,774.1 L1520.5,780.5 L1522.5,782.3 L1524.5,783.2 L1528.5,783.0 L1534.5,782.0 L1536.0,781.5 L1540.5,779.0 L1542.5,778.5 L1543.0,778.7 L1543.5,779.2 L1545.0,781.3 L1546.0,782.0 L1555.5,782.0 L1556.0,781.7 L1556.5,780.9 L1558.5,776.7 L1560.0,775.2 L1561.5,774.3 L1562.0,774.5 L1562.5,775.3 L1564.0,779.9 L1564.5,781.0 L1565.0,781.5 L1567.0,782.7 L1569.0,783.5 L1570.5,783.7 L1572.5,783.6 L1575.0,783.1 L1577.0,782.3 L1579.0,781.2 L1579.5,780.3 L1581.0,774.6 L1582.5,765.5 L1583.5,752.7 L1584.0,749.2 L1585.0,747.4 L1585.5,747.0 L1586.0,747.0 L1586.5,747.5 L1587.0,748.5 L1588.0,751.8 L1590.0,771.2 L1591.5,779.3 L1592.0,780.9 L1592.5,781.3 L1593.0,780.4 L1593.5,778.6 L1596.5,764.7 L1597.0,762.9 L1597.5,762.2 L1598.0,762.3 L1599.0,763.5 L1600.5,766.6 L1601.0,768.1 L1603.0,777.5 L1603.5,778.7 L1605.0,780.7 L1606.5,782.1 L1608.0,782.7 L1610.0,782.9 L1627.0,783.6 L1634.0,783.7 L1639.5,783.0 L1645.0,781.9 L1651.0,779.5 L1653.5,779.0 L1654.0,779.0 L1655.0,779.7 L1657.0,781.9 L1658.0,782.7 L1659.0,782.7 L1661.0,782.5 L1664.0,781.6 L1665.5,780.8 L1666.0,780.1 L1667.0,777.2 L1668.5,771.7 L1670.0,767.5 L1671.0,765.1 L1671.5,764.3 L1672.0,764.0 L1672.5,764.4 L1673.0,765.3 L1675.5,772.3 L1677.0,777.1 L1678.0,779.3 L1680.0,780.8 L1683.0,782.2 L1685.0,782.6 L1687.0,782.7 L1693.0,781.4 L1701.5,781.3 L1702.0,781.2 L1704.0,775.1 L1705.5,773.7 L1706.5,773.4 L1707.0,774.1 L1707.5,775.5 L1709.0,780.7 L1709.5,781.4 L1711.0,782.0 L1713.5,782.8 L1716.0,783.2 L1723.0,782.8 L1724.0,783.8 L1725.5,786.2 L1726.0,786.6 L1726.5,786.7 L1727.5,786.1 L1730.0,783.2 L1731.0,782.7 L1732.5,783.0 L1733.5,783.5 L1735.5,785.3 L1736.0,785.6" fill="none" stroke="#FF4040" stroke-width="6.0" stroke-linejoin="round" stroke-linecap="butt"/>
<path d="M62.5,1071.4 L84.5,1071.4 L91.0,1070.9 L93.5,1070.5 L95.0,1070.5 L96.5,1070.1 L97.5,1070.4 L98.5,1069.6 L99.0,1069.5 L100.0,1070.8 L100.5,1071.1 L102.0,1070.4 L103.0,1070.6 L104.0,1071.3 L104.5,1071.1 L105.5,1069.9 L106.5,1070.1 L107.0,1069.6 L108.0,1068.0 L108.5,1068.2 L109.5,1069.6 L110.0,1069.6 L111.0,1069.3 L112.0,1069.5 L113.5,1070.8 L114.5,1070.3 L115.0,1070.4 L116.0,1071.3 L117.0,1070.1 L117.5,1069.9 L118.5,1071.3 L119.0,1071.5 L121.0,1070.5 L121.5,1070.6 L122.5,1071.5 L123.0,1071.5 L124.0,1071.0 L125.0,1072.0 L125.5,1071.9 L126.5,1070.6 L128.0,1071.6 L128.5,1071.3 L130.5,1068.9 L131.0,1068.9 L132.0,1070.2 L133.0,1070.9 L134.0,1072.8 L134.5,1073.3 L136.0,1070.6 L137.0,1070.3 L139.5,1068.5 L140.0,1068.8 L141.0,1070.4 L141.5,1070.7 L142.5,1070.5 L143.5,1071.4 L144.0,1071.0 L145.0,1068.7 L145.5,1068.3 L149.0,1068.8 L150.5,1071.1 L151.5,1070.5 L152.0,1070.5 L152.5,1070.9 L153.0,1070.9 L154.0,1068.8 L154.5,1068.2 L155.0,1068.0 L157.0,1068.7 L158.0,1068.1 L158.5,1068.2 L159.5,1069.6 L160.0,1069.7 L160.5,1069.4 L161.0,1069.5 L162.0,1070.8 L162.5,1070.7 L163.5,1069.5 L164.0,1069.4 L166.0,1070.6 L166.5,1070.4 L167.5,1069.3 L169.0,1070.1 L170.0,1069.2 L170.5,1069.5 L171.5,1070.6 L173.0,1069.6 L174.0,1070.0 L175.0,1070.9 L175.5,1071.1 L177.0,1068.9 L178.0,1068.6 L179.0,1066.9 L179.5,1066.6 L180.5,1067.9 L181.0,1068.2 L182.0,1067.8 L182.5,1067.8 L184.5,1069.3 L185.0,1069.1 L186.0,1067.6 L186.5,1067.6 L187.0,1068.0 L187.5,1068.0 L188.5,1067.0 L189.0,1067.4 L190.0,1068.7 L192.0,1068.3 L192.5,1068.5 L193.5,1069.7 L194.0,1070.0 L195.0,1068.9 L195.5,1068.7 L196.5,1069.4 L197.5,1068.3 L198.0,1068.1 L199.0,1068.9 L199.5,1068.9 L201.5,1067.3 L202.0,1067.3 L203.0,1068.1 L203.5,1068.0 L204.5,1066.7 L205.0,1066.8 L205.5,1067.2 L206.0,1067.2 L207.0,1066.1 L207.5,1066.4 L208.5,1067.9 L209.0,1068.2 L210.0,1068.2 L211.0,1067.6 L212.0,1067.6 L212.5,1067.3 L213.5,1064.9 L214.0,1064.2 L215.0,1064.7 L216.0,1064.1 L216.5,1064.2 L218.0,1066.2 L219.0,1066.5 L220.0,1066.0 L220.5,1066.1 L221.5,1067.2 L222.0,1067.0 L223.0,1065.4 L224.0,1065.4 L224.5,1065.0 L225.5,1063.4 L226.0,1063.3 L227.0,1063.8 L228.0,1064.0 L229.5,1063.3 L231.0,1065.5 L232.0,1064.8 L232.5,1064.8 L233.0,1065.2 L233.5,1065.2 L235.0,1063.3 L237.0,1063.3 L237.5,1063.0 L238.5,1061.6 L239.0,1061.4 L240.0,1062.4 L240.5,1062.4 L241.5,1061.3 L242.5,1061.9 L243.0,1061.8 L244.0,1060.7 L244.5,1060.7 L246.5,1061.4 L247.0,1061.0 L248.0,1059.5 L248.5,1059.6 L249.0,1060.2 L249.5,1060.5 L250.5,1059.4 L251.0,1059.3 L252.0,1059.7 L253.5,1058.3 L254.5,1058.3 L255.5,1058.8 L256.0,1058.7 L257.0,1057.1 L257.5,1056.7 L258.5,1057.6 L259.0,1057.4 L260.0,1056.4 L261.0,1056.8 L261.5,1056.6 L262.5,1055.5 L263.0,1055.2 L264.0,1055.2 L265.0,1055.8 L265.5,1055.4 L266.5,1053.7 L267.0,1053.7 L267.5,1054.3 L268.0,1054.4 L269.0,1053.4 L269.5,1053.3 L270.5,1053.7 L272.5,1052.1 L273.0,1052.0 L274.0,1052.7 L274.5,1052.8 L275.5,1051.1 L276.0,1050.6 L277.0,1051.4 L277.5,1051.2 L278.5,1050.2 L279.5,1050.6 L280.0,1050.4 L282.0,1048.8 L282.5,1048.8 L283.5,1049.7 L284.0,1049.5 L285.0,1047.7 L285.5,1047.7 L286.0,1048.2 L286.5,1048.3 L287.5,1047.3 L289.0,1047.6 L291.5,1045.9 L293.0,1047.0 L294.0,1045.5 L294.5,1045.0 L295.5,1045.7 L297.0,1044.8 L298.0,1045.1 L298.5,1045.1 L299.5,1044.5 L300.5,1043.6 L301.0,1043.5 L302.0,1044.8 L302.5,1044.7 L303.5,1043.1 L304.0,1043.2 L304.5,1043.6 L305.0,1043.7 L306.0,1043.0 L307.5,1043.3 L308.0,1043.3 L309.0,1042.8 L310.0,1041.8 L310.5,1042.1 L311.0,1042.9 L311.5,1043.3 L312.5,1042.0 L313.0,1041.7 L314.0,1042.3 L315.5,1041.7 L317.5,1042.2 L318.0,1042.1 L319.0,1040.9 L319.5,1040.8 L320.5,1042.2 L321.0,1042.2 L322.0,1040.9 L323.5,1041.2 L324.5,1040.5 L327.0,1040.2 L327.5,1039.8 L328.5,1038.5 L329.0,1038.8 L330.0,1040.0 L331.0,1039.0 L331.5,1038.7 L332.5,1039.1 L334.0,1038.7 L336.5,1039.3 L337.5,1038.4 L338.0,1038.4 L339.0,1039.3 L339.5,1039.4 L340.5,1039.1 L349.0,1040.6 L362.5,1043.9 L375.0,1047.4 L387.5,1050.5 L442.5,1062.9 L454.0,1065.0 L470.5,1067.5 L478.0,1068.0 L486.0,1068.3 L492.5,1068.1 L498.5,1067.7 L503.0,1066.7 L508.0,1065.1 L513.0,1062.7 L517.5,1060.0 L522.0,1056.6 L525.5,1053.4 L528.0,1050.4 L530.5,1046.5 L533.5,1040.5 L535.5,1035.4 L539.0,1021.9 L540.0,1016.9 L540.5,1012.9 L541.5,992.6 L542.5,983.9 L543.0,977.4 L544.5,953.4 L545.0,942.5 L546.0,931.5 L546.5,930.8 L547.0,931.3 L548.0,933.0 L548.5,935.2 L550.0,946.6 L551.0,952.1 L551.5,953.9 L552.0,954.3 L552.5,952.8 L553.0,949.8 L553.5,945.8 L554.0,938.7 L557.0,877.5 L559.0,846.9 L562.0,759.0 L563.0,740.1 L563.5,732.9 L564.0,729.8 L564.5,733.3 L565.0,740.1 L565.5,751.4 L568.5,861.6 L569.0,898.6 L569.5,911.6 L571.0,929.5 L572.5,944.2 L574.0,955.0 L577.5,976.5 L581.0,995.7 L582.5,1000.4 L583.5,1002.4 L584.0,1002.5 L584.5,1002.0 L586.0,999.8 L586.5,999.3 L587.5,999.4 L589.5,1000.0 L590.0,999.8 L590.5,998.7 L591.5,994.0 L592.0,988.4 L593.0,968.3 L595.5,911.3 L596.0,898.7 L596.5,871.6 L597.0,861.1 L597.5,858.0 L598.0,857.9 L598.5,860.4 L599.5,868.7 L601.0,889.2 L601.5,899.3 L602.5,932.3 L605.5,1005.3 L606.5,1021.0 L607.5,1031.5 L608.5,1039.9 L609.5,1046.1 L611.0,1052.8 L612.0,1055.8 L613.5,1058.9 L615.5,1061.9 L618.5,1065.0 L621.0,1066.8 L623.5,1068.0 L626.0,1068.9 L634.5,1070.4 L638.5,1070.7 L648.0,1070.7 L649.0,1070.1 L650.5,1068.9 L651.5,1068.5 L652.0,1068.6 L654.0,1070.5 L654.5,1070.7 L669.5,1072.1 L672.0,1071.9 L676.5,1070.8 L680.0,1070.2 L685.5,1069.6 L701.5,1069.8 L707.0,1070.3 L711.0,1071.2 L713.0,1071.4 L719.5,1071.1 L730.5,1071.0 L758.0,1069.5 L766.0,1069.3 L785.0,1070.5 L807.0,1070.6 L809.5,1071.1 L815.5,1072.9 L818.5,1073.4 L819.5,1073.2 L821.0,1072.6 L826.0,1069.7 L828.0,1069.3 L833.0,1069.6 L846.0,1071.0 L850.0,1071.2 L978.0,1071.2 L1008.0,1070.5 L1032.5,1069.3 L1034.0,1069.4 L1035.0,1069.2 L1036.5,1069.5 L1038.0,1069.1 L1039.0,1069.2 L1040.0,1069.6 L1040.5,1069.6 L1041.5,1069.0 L1042.0,1069.0 L1043.0,1069.5 L1044.0,1069.0 L1044.5,1069.1 L1045.5,1069.7 L1047.0,1069.1 L1048.0,1069.0 L1049.5,1069.8 L1051.0,1069.0 L1052.0,1069.5 L1053.5,1069.0 L1054.5,1069.6 L1055.0,1069.7 L1057.0,1068.9 L1057.5,1069.0 L1058.5,1069.7 L1059.0,1069.7 L1060.0,1069.0 L1061.5,1069.5 L1062.5,1069.0 L1063.0,1069.1 L1064.0,1069.6 L1064.5,1069.6 L1066.5,1068.9 L1068.0,1069.8 L1069.5,1069.0 L1070.5,1069.5 L1072.0,1068.9 L1073.5,1069.6 L1076.0,1068.7 L1077.0,1069.5 L1077.5,1069.6 L1078.5,1068.9 L1080.0,1069.2 L1081.0,1068.7 L1081.5,1068.7 L1082.5,1069.1 L1083.5,1069.1 L1085.0,1068.3 L1085.5,1068.4 L1086.5,1069.1 L1088.0,1068.4 L1089.0,1068.7 L1090.5,1067.9 L1092.0,1068.1 L1093.0,1068.0 L1094.5,1067.0 L1095.5,1067.7 L1096.0,1067.8 L1097.0,1067.3 L1098.5,1067.8 L1099.5,1067.4 L1102.0,1067.9 L1102.5,1067.7 L1103.5,1066.8 L1104.0,1066.7 L1105.0,1067.3 L1106.5,1066.3 L1107.5,1066.4 L1109.0,1065.5 L1111.5,1065.4 L1113.0,1064.0 L1114.0,1064.4 L1114.5,1064.3 L1115.5,1063.5 L1117.0,1063.4 L1118.5,1062.5 L1119.5,1062.4 L1120.5,1062.7 L1121.0,1062.6 L1122.0,1061.5 L1122.5,1061.5 L1123.5,1062.1 L1125.0,1061.4 L1126.0,1061.6 L1128.5,1060.5 L1129.5,1060.7 L1130.0,1060.5 L1131.5,1057.6 L1132.5,1056.8 L1134.0,1055.0 L1135.5,1054.6 L1137.5,1053.3 L1138.0,1053.2 L1139.0,1053.6 L1139.5,1053.4 L1140.5,1052.1 L1141.0,1051.9 L1142.0,1052.1 L1143.0,1051.3 L1144.5,1050.9 L1147.0,1049.0 L1148.5,1049.2 L1150.0,1047.4 L1151.0,1047.4 L1151.5,1047.2 L1152.5,1046.4 L1154.0,1046.0 L1156.0,1044.9 L1156.5,1044.7 L1157.5,1045.0 L1158.0,1044.9 L1159.0,1043.9 L1160.5,1043.1 L1163.0,1040.5 L1166.0,1036.7 L1168.0,1033.5 L1171.0,1028.1 L1173.0,1023.8 L1175.0,1018.6 L1176.5,1014.0 L1178.0,1008.5 L1179.5,1001.5 L1182.0,985.1 L1184.0,967.8 L1186.5,940.7 L1188.0,919.0 L1190.0,881.9 L1191.5,860.0 L1192.0,848.9 L1193.5,806.1 L1196.0,722.8 L1196.5,711.3 L1197.5,702.4 L1198.0,701.4 L1198.5,703.5 L1199.0,707.9 L1199.5,715.4 L1202.5,826.7 L1205.0,905.7 L1206.5,946.8 L1208.0,977.2 L1210.0,1005.8 L1212.0,1024.8 L1213.5,1037.0 L1215.0,1046.2 L1217.5,1058.7 L1219.0,1062.9 L1220.0,1064.8 L1220.5,1065.4 L1223.0,1066.4 L1225.5,1066.7 L1227.5,1066.0 L1229.5,1064.8 L1230.5,1063.8 L1232.0,1061.4 L1234.0,1057.2 L1235.0,1054.2 L1236.0,1048.7 L1237.0,1038.0 L1238.0,1018.9 L1240.5,961.9 L1241.0,956.0 L1241.5,953.9 L1242.0,952.9 L1242.5,953.6 L1244.0,962.5 L1245.5,978.2 L1246.0,978.5 L1247.0,970.7 L1248.5,949.9 L1249.5,942.7 L1250.0,941.9 L1250.5,943.2 L1251.0,945.9 L1252.0,954.9 L1253.0,975.6 L1253.5,990.7 L1254.0,999.1 L1255.0,1005.4 L1255.5,1005.7 L1256.0,1002.8 L1256.5,998.0 L1257.0,992.4 L1258.0,974.9 L1259.0,963.9 L1259.5,960.3 L1260.0,959.1 L1261.0,958.1 L1261.5,958.3 L1262.0,960.1 L1263.0,966.3 L1265.5,996.3 L1267.5,1015.1 L1272.0,1041.5 L1273.5,1056.5 L1274.5,1062.0 L1275.5,1065.4 L1276.0,1065.8 L1276.5,1065.1 L1278.0,1060.6 L1279.5,1058.8 L1280.0,1058.5 L1280.5,1058.5 L1281.0,1058.9 L1281.5,1059.8 L1285.5,1068.9 L1286.5,1070.1 L1288.0,1071.1 L1289.0,1071.6 L1290.5,1071.7 L1292.5,1071.2 L1295.0,1070.0 L1295.5,1069.3 L1298.0,1059.7 L1299.5,1055.9 L1300.0,1055.3 L1300.5,1055.3 L1301.0,1056.0 L1303.0,1061.4 L1304.5,1066.3 L1305.0,1067.4 L1305.5,1067.7 L1306.0,1067.2 L1307.5,1064.2 L1308.5,1062.8 L1309.5,1061.9 L1310.0,1061.9 L1311.0,1063.3 L1312.5,1066.6 L1314.0,1068.7 L1315.0,1069.7 L1315.5,1069.9 L1316.0,1069.6 L1318.0,1062.4 L1319.5,1059.2 L1320.0,1058.6 L1320.5,1058.5 L1321.0,1058.9 L1321.5,1060.0 L1324.5,1067.5 L1325.5,1069.5 L1326.5,1070.1 L1328.5,1070.6 L1329.0,1070.7 L1329.5,1070.4 L1331.5,1066.7 L1332.0,1065.9 L1332.5,1065.5 L1333.0,1065.6 L1333.5,1066.1 L1335.0,1068.7 L1336.0,1069.8 L1340.0,1069.9 L1340.5,1069.6 L1341.5,1067.4 L1343.5,1061.2 L1344.0,1060.2 L1344.5,1059.7 L1345.0,1059.7 L1345.5,1060.5 L1348.5,1069.2 L1349.0,1070.0 L1349.5,1070.1 L1350.0,1070.0 L1351.0,1069.0 L1355.0,1062.8 L1356.0,1062.0 L1356.5,1062.0 L1357.0,1062.2 L1358.0,1063.3 L1361.0,1068.2 L1362.0,1068.9 L1362.5,1068.9 L1363.0,1068.6 L1364.0,1067.2 L1367.0,1061.5 L1368.0,1060.8 L1368.5,1060.9 L1369.5,1062.1 L1372.5,1068.7 L1373.5,1070.0 L1374.0,1070.1 L1379.5,1070.0 L1387.5,1069.4 L1399.0,1067.9 L1410.5,1067.7 L1411.5,1066.8 L1414.0,1062.5 L1414.5,1062.1 L1415.0,1062.0 L1416.0,1062.4 L1418.5,1065.0 L1419.5,1065.5 L1422.0,1065.2 L1427.5,1063.9 L1429.5,1063.9 L1431.0,1064.8 L1434.5,1068.0 L1436.0,1068.5 L1437.0,1068.2 L1438.0,1067.6 L1441.5,1064.4 L1442.5,1063.9 L1443.5,1063.9 L1444.5,1064.3 L1445.5,1065.0 L1450.0,1069.7 L1451.0,1070.4 L1452.0,1070.8 L1453.0,1070.8 L1454.0,1070.4 L1455.5,1069.5 L1459.5,1066.2 L1461.0,1065.6 L1462.0,1065.5 L1463.5,1066.2 L1467.0,1069.7 L1470.5,1072.1 L1472.5,1073.1 L1474.0,1073.2 L1475.5,1072.8 L1480.0,1070.9 L1485.0,1070.4 L1486.5,1070.1 L1487.0,1069.4 L1487.5,1068.3 L1489.5,1061.7 L1492.0,1054.5 L1493.0,1052.7 L1493.5,1052.6 L1494.0,1053.2 L1495.0,1055.9 L1496.5,1061.1 L1498.5,1070.0 L1499.0,1071.2 L1499.5,1071.2 L1500.0,1070.9 L1502.0,1068.2 L1502.5,1067.8 L1503.0,1067.9 L1503.5,1068.4 L1505.5,1072.0 L1506.0,1072.4 L1507.0,1072.4 L1508.0,1072.2 L1511.5,1070.6 L1513.0,1070.2 L1524.0,1069.5 L1528.5,1069.1 L1533.0,1068.2 L1536.5,1067.2 L1537.0,1066.9 L1538.0,1066.0 L1540.5,1062.7 L1542.5,1059.4 L1543.5,1058.5 L1544.0,1058.6 L1544.5,1059.3 L1546.0,1063.4 L1547.0,1065.3 L1550.0,1066.0 L1553.5,1066.1 L1555.0,1065.7 L1558.5,1064.1 L1559.5,1063.9 L1560.5,1063.9 L1562.0,1065.0 L1564.5,1067.8 L1565.5,1068.4 L1566.0,1068.5 L1566.5,1068.3 L1567.5,1067.1 L1569.5,1063.5 L1570.5,1062.1 L1572.5,1060.3 L1574.0,1059.6 L1574.5,1059.8 L1575.0,1060.4 L1577.5,1066.3 L1578.0,1067.0 L1578.5,1067.1 L1579.0,1066.4 L1580.0,1063.1 L1581.5,1054.8 L1583.5,1031.5 L1585.0,1019.8 L1585.5,1018.5 L1586.5,1017.6 L1587.0,1017.5 L1587.5,1018.6 L1588.5,1025.6 L1589.0,1030.4 L1591.5,1064.4 L1592.0,1068.8 L1592.5,1070.1 L1593.0,1068.8 L1593.5,1066.2 L1595.0,1056.0 L1596.5,1048.3 L1597.0,1046.4 L1597.5,1045.6 L1598.0,1045.7 L1599.0,1047.0 L1600.5,1050.7 L1602.5,1063.4 L1604.0,1068.9 L1605.0,1071.5 L1605.5,1072.3 L1606.5,1072.9 L1608.5,1073.7 L1610.0,1074.0 L1613.5,1074.1 L1618.5,1073.6 L1633.0,1071.4 L1643.5,1069.4 L1649.0,1067.8 L1650.0,1067.3 L1652.5,1065.2 L1653.5,1064.8 L1654.0,1064.8 L1655.0,1065.4 L1658.0,1069.2 L1659.0,1070.0 L1659.5,1070.1 L1661.0,1070.1 L1663.5,1069.4 L1665.5,1068.5 L1666.0,1067.5 L1668.5,1057.3 L1670.5,1052.7 L1671.0,1052.2 L1671.5,1052.2 L1672.5,1053.3 L1674.5,1057.6 L1677.0,1066.3 L1678.0,1068.7 L1679.0,1069.2 L1681.0,1069.8 L1684.0,1070.1 L1684.5,1070.1 L1685.0,1069.8 L1686.0,1068.5 L1688.5,1064.3 L1691.0,1061.5 L1692.0,1060.8 L1692.5,1060.8 L1693.5,1061.6 L1696.0,1065.9 L1697.0,1067.1 L1700.5,1069.0 L1703.5,1070.0 L1705.5,1070.1 L1709.0,1069.9 L1719.0,1068.3 L1725.0,1067.1 L1726.5,1066.5 L1727.0,1065.2 L1728.5,1058.9 L1729.0,1057.5 L1730.5,1055.8 L1731.5,1055.4 L1732.0,1055.8 L1732.5,1056.8 L1734.5,1063.1 L1736.0,1066.8" fill="none" stroke="#0064E0" stroke-width="6.0" stroke-linejoin="round" stroke-linecap="butt"/>
<path d="M62.5,1229.8 L83.5,1229.8 L92.0,1229.4 L93.0,1229.6 L95.5,1229.0 L97.0,1229.5 L98.5,1228.7 L99.5,1229.2 L101.0,1228.0 L102.0,1228.9 L102.5,1229.1 L104.5,1227.6 L105.0,1227.6 L106.0,1228.6 L106.5,1228.7 L107.5,1227.8 L108.5,1228.5 L109.0,1228.5 L110.0,1227.5 L110.5,1227.6 L111.5,1228.6 L112.0,1228.7 L112.5,1228.5 L114.0,1227.4 L114.5,1227.6 L115.5,1228.7 L116.5,1227.8 L117.0,1227.7 L118.0,1228.3 L119.5,1226.7 L120.5,1227.3 L121.5,1227.4 L122.0,1227.2 L123.0,1226.0 L123.5,1225.8 L124.5,1226.7 L125.0,1226.7 L126.0,1225.7 L127.0,1226.3 L127.5,1226.3 L128.5,1225.1 L129.0,1225.1 L131.0,1226.4 L131.5,1226.5 L132.5,1226.1 L134.0,1227.8 L135.5,1226.0 L136.5,1225.8 L138.0,1223.5 L138.5,1223.5 L140.5,1225.1 L141.5,1224.4 L142.0,1224.4 L143.0,1225.9 L143.5,1226.0 L144.5,1225.0 L145.5,1225.1 L146.0,1224.6 L147.0,1222.7 L147.5,1222.2 L148.0,1222.1 L148.5,1222.3 L149.5,1223.1 L150.0,1223.1 L151.0,1222.3 L151.5,1222.7 L152.5,1224.2 L153.5,1223.6 L154.5,1223.9 L155.0,1223.7 L156.5,1221.1 L157.0,1220.9 L157.5,1221.1 L159.0,1222.4 L160.0,1221.3 L160.5,1221.1 L161.5,1222.2 L162.0,1222.3 L163.0,1221.5 L164.0,1222.2 L164.5,1222.1 L165.5,1221.0 L166.5,1220.4 L167.0,1220.5 L168.0,1221.2 L168.5,1221.0 L169.5,1219.5 L170.0,1219.5 L171.0,1220.2 L172.0,1219.4 L172.5,1219.4 L173.5,1220.0 L176.0,1218.1 L177.0,1218.4 L177.5,1218.3 L179.0,1215.3 L180.0,1215.4 L181.5,1213.7 L182.5,1213.8 L183.0,1213.5 L185.0,1211.3 L185.5,1211.2 L186.5,1212.2 L187.0,1212.2 L188.0,1210.9 L188.5,1211.1 L189.5,1212.2 L190.5,1211.9 L192.0,1213.2 L193.0,1213.2 L194.5,1212.3 L195.0,1212.4 L195.5,1213.0 L196.0,1213.2 L197.5,1210.9 L198.5,1211.0 L200.0,1209.5 L201.5,1209.4 L202.5,1208.6 L203.5,1207.1 L204.0,1206.8 L205.0,1207.8 L205.5,1207.8 L206.5,1206.3 L207.0,1206.3 L207.5,1206.6 L208.0,1206.6 L209.0,1205.8 L210.5,1205.9 L211.0,1205.6 L211.5,1205.0 L213.0,1200.7 L213.5,1200.0 L214.5,1199.9 L215.5,1198.3 L216.0,1197.8 L217.0,1198.1 L218.5,1197.0 L220.5,1196.9 L221.0,1196.5 L222.5,1192.4 L223.5,1191.6 L224.0,1190.6 L225.0,1187.7 L225.5,1187.1 L226.5,1186.6 L227.5,1185.5 L228.0,1185.2 L230.0,1185.0 L230.5,1184.4 L231.5,1181.9 L232.0,1181.3 L232.5,1181.3 L233.0,1181.0 L234.5,1177.2 L235.5,1175.9 L237.0,1173.0 L238.0,1171.7 L239.5,1170.3 L241.0,1166.5 L241.5,1166.4 L242.0,1166.5 L242.5,1166.0 L243.5,1163.8 L245.0,1162.2 L247.0,1158.9 L247.5,1158.4 L248.5,1157.7 L249.0,1156.8 L250.0,1153.6 L250.5,1152.9 L251.5,1152.5 L253.0,1149.3 L254.0,1148.2 L256.5,1144.1 L258.0,1143.3 L259.5,1139.6 L260.5,1139.2 L261.0,1138.6 L265.5,1130.6 L268.5,1126.2 L287.0,1103.3 L294.0,1095.4 L298.0,1091.7 L308.0,1083.5 L318.5,1076.5 L324.0,1073.2 L331.5,1070.3 L334.5,1068.7 L337.5,1067.8 L343.0,1066.9 L352.5,1066.4 L358.5,1067.0 L362.0,1067.6 L364.5,1068.3 L373.0,1071.6 L381.5,1075.9 L388.0,1079.8 L393.0,1083.5 L402.0,1090.7 L411.5,1099.1 L415.0,1102.5 L419.0,1106.7 L432.0,1121.7 L457.0,1152.9 L467.5,1166.8 L482.5,1185.6 L501.0,1207.5 L505.5,1212.3 L510.0,1216.7 L519.5,1225.1 L524.0,1228.5 L527.0,1229.6 L528.0,1229.7 L529.5,1229.3 L530.5,1228.8 L531.5,1228.0 L533.5,1225.6 L539.5,1216.7 L542.0,1211.8 L549.0,1195.2 L551.5,1190.6 L553.0,1188.3 L554.0,1187.2 L556.0,1186.2 L558.0,1185.5 L559.5,1185.3 L561.5,1185.8 L564.0,1187.2 L568.5,1191.8 L570.0,1192.8 L571.5,1192.7 L574.5,1192.0 L576.0,1192.0 L579.5,1192.6 L581.5,1193.4 L583.0,1194.6 L585.0,1196.7 L590.5,1205.3 L592.0,1207.0 L594.0,1208.8 L601.0,1214.3 L604.0,1216.4 L609.0,1218.9 L617.5,1222.5 L623.0,1223.9 L637.5,1226.8 L650.0,1228.8 L670.5,1230.8 L698.0,1232.6 L716.0,1233.3 L725.5,1233.4 L787.0,1230.9 L816.0,1230.6 L818.5,1230.3 L821.5,1229.7 L822.5,1229.2 L825.5,1227.3 L827.0,1227.0 L828.0,1227.4 L831.0,1230.5 L832.0,1230.9 L838.0,1230.7 L844.0,1230.2 L847.5,1229.0 L849.0,1228.6 L851.0,1228.8 L855.5,1230.0 L857.5,1230.3 L883.5,1230.6 L901.5,1230.4 L949.0,1229.2 L971.0,1229.7 L1003.0,1229.7 L1005.0,1229.9 L1007.0,1229.5 L1008.0,1229.9 L1009.5,1229.6 L1010.5,1230.0 L1012.5,1229.5 L1014.5,1230.1 L1016.0,1229.3 L1017.5,1230.0 L1018.5,1229.6 L1020.0,1230.0 L1021.0,1229.6 L1022.0,1229.5 L1023.5,1230.1 L1024.0,1230.1 L1025.0,1229.4 L1025.5,1229.4 L1026.5,1229.9 L1028.0,1229.6 L1029.0,1230.0 L1031.5,1229.5 L1033.0,1230.2 L1034.5,1229.4 L1035.5,1229.8 L1036.0,1229.9 L1037.0,1229.6 L1038.5,1230.0 L1041.0,1229.4 L1042.0,1230.0 L1042.5,1230.1 L1043.5,1229.4 L1044.0,1229.3 L1045.0,1229.8 L1046.5,1229.4 L1047.5,1229.7 L1050.0,1229.1 L1050.5,1229.1 L1051.5,1229.8 L1052.0,1229.7 L1053.0,1229.0 L1054.0,1229.3 L1055.5,1229.1 L1057.0,1229.4 L1058.0,1229.3 L1059.5,1228.8 L1061.0,1229.7 L1062.0,1229.1 L1062.5,1229.1 L1063.5,1229.6 L1065.0,1229.5 L1067.0,1230.0 L1068.5,1229.6 L1069.0,1229.7 L1070.0,1230.6 L1070.5,1230.5 L1071.5,1230.0 L1072.5,1230.4 L1074.0,1230.3 L1076.5,1230.8 L1078.0,1230.2 L1079.5,1231.2 L1080.5,1230.7 L1081.0,1230.7 L1082.0,1231.0 L1083.5,1230.9 L1085.5,1231.4 L1086.0,1231.3 L1087.0,1230.7 L1087.5,1230.7 L1088.5,1231.5 L1089.0,1231.5 L1090.0,1231.0 L1091.0,1231.2 L1093.0,1231.0 L1095.0,1231.4 L1096.5,1230.5 L1098.0,1231.3 L1099.0,1230.8 L1100.5,1230.9 L1102.0,1230.6 L1103.0,1230.6 L1104.0,1230.9 L1104.5,1230.9 L1105.5,1230.1 L1106.0,1230.0 L1107.0,1230.7 L1108.5,1230.2 L1109.5,1230.3 L1112.0,1229.8 L1113.5,1230.1 L1115.0,1229.0 L1116.5,1229.5 L1117.5,1228.9 L1119.0,1228.7 L1121.5,1227.8 L1122.5,1228.1 L1123.0,1228.0 L1124.0,1226.9 L1124.5,1226.6 L1125.5,1226.8 L1126.0,1226.6 L1129.0,1224.7 L1130.5,1223.5 L1132.0,1223.0 L1133.5,1220.7 L1135.0,1219.6 L1140.0,1213.3 L1141.0,1212.9 L1141.5,1212.4 L1143.0,1209.8 L1144.0,1209.1 L1145.5,1207.4 L1148.0,1205.0 L1149.0,1203.7 L1149.5,1203.3 L1150.5,1203.2 L1152.0,1201.4 L1158.5,1200.3 L1160.0,1201.7 L1161.0,1201.5 L1161.5,1201.7 L1163.5,1203.3 L1164.5,1204.4 L1166.5,1207.2 L1167.5,1208.2 L1169.0,1211.4 L1169.5,1212.0 L1170.5,1212.8 L1175.5,1220.2 L1177.0,1221.3 L1178.5,1224.0 L1180.0,1224.9 L1182.0,1226.8 L1183.5,1227.6 L1184.5,1228.4 L1185.0,1228.7 L1186.0,1228.4 L1186.5,1228.6 L1187.5,1229.6 L1188.0,1229.5 L1193.0,1226.0 L1194.0,1225.8 L1195.5,1224.0 L1197.0,1224.0 L1198.0,1223.2 L1199.0,1223.0 L1199.5,1223.2 L1200.0,1223.8 L1202.5,1228.3 L1203.0,1228.9 L1203.5,1228.9 L1204.5,1227.9 L1205.0,1227.6 L1206.0,1227.7 L1207.5,1226.4 L1208.5,1225.8 L1210.0,1225.5 L1211.5,1224.9 L1212.5,1225.2 L1214.0,1224.0 L1215.5,1224.5 L1217.5,1224.1 L1219.5,1224.4 L1220.5,1224.2 L1222.0,1225.1 L1223.0,1224.5 L1223.5,1224.5 L1225.0,1225.5 L1227.0,1225.8 L1228.5,1226.5 L1229.5,1226.6 L1231.0,1227.7 L1232.5,1227.4 L1233.5,1227.8 L1234.5,1227.9 L1243.0,1226.9 L1246.0,1226.8 L1247.5,1227.3 L1250.5,1228.8 L1252.0,1229.0 L1253.5,1228.4 L1257.0,1226.3 L1261.5,1224.0 L1263.0,1223.4 L1264.5,1223.2 L1265.5,1223.3 L1267.0,1223.7 L1270.5,1225.4 L1274.5,1228.4 L1276.0,1229.0 L1282.0,1229.0 L1283.5,1228.8 L1295.0,1225.0 L1299.5,1224.2 L1303.5,1223.9 L1305.5,1224.2 L1307.5,1225.0 L1310.0,1226.3 L1313.0,1228.7 L1314.0,1229.0 L1320.5,1228.9 L1325.5,1226.1 L1329.0,1225.2 L1331.5,1224.9 L1334.5,1225.1 L1339.0,1225.9 L1347.5,1228.7 L1349.5,1229.0 L1351.0,1228.3 L1355.5,1224.8 L1356.5,1224.4 L1357.0,1224.4 L1357.5,1224.7 L1359.5,1226.8 L1362.0,1228.2 L1364.0,1228.9 L1365.5,1229.0 L1368.5,1228.6 L1371.5,1228.0 L1373.5,1227.0 L1375.0,1225.8 L1376.0,1223.7 L1379.5,1213.8 L1380.5,1211.7 L1382.5,1209.2 L1383.5,1208.7 L1384.5,1209.1 L1386.5,1210.7 L1387.0,1210.9 L1387.5,1210.7 L1388.5,1208.7 L1392.0,1198.1 L1393.5,1196.4 L1394.5,1195.8 L1395.0,1195.7 L1396.0,1195.9 L1397.0,1196.7 L1399.0,1198.9 L1400.0,1200.6 L1403.0,1207.3 L1408.5,1220.8 L1411.0,1226.4 L1412.0,1228.0 L1412.5,1228.3 L1413.0,1228.1 L1414.0,1227.1 L1415.5,1224.3 L1416.0,1221.9 L1421.5,1181.8 L1423.5,1172.6 L1426.5,1162.7 L1428.5,1157.8 L1431.0,1153.6 L1433.0,1151.2 L1436.0,1149.0 L1437.5,1147.2 L1438.5,1145.1 L1442.5,1134.6 L1444.0,1133.0 L1445.0,1132.6 L1446.0,1132.9 L1447.5,1134.2 L1448.5,1135.7 L1449.0,1137.0 L1451.5,1145.8 L1455.5,1161.8 L1457.0,1165.9 L1458.5,1168.5 L1459.5,1169.5 L1460.5,1170.0 L1463.0,1170.6 L1464.0,1171.1 L1465.0,1172.7 L1466.0,1175.5 L1467.5,1181.1 L1468.5,1186.6 L1473.5,1220.7 L1475.0,1226.5 L1475.5,1227.8 L1476.0,1228.6 L1477.0,1228.6 L1478.0,1228.1 L1480.0,1226.4 L1480.5,1225.6 L1481.5,1222.3 L1486.0,1203.7 L1488.0,1199.0 L1489.0,1197.7 L1489.5,1197.6 L1490.5,1197.8 L1492.0,1198.7 L1493.5,1200.2 L1494.0,1201.3 L1496.0,1208.0 L1499.0,1216.9 L1503.0,1226.4 L1503.5,1227.2 L1504.5,1228.2 L1506.0,1229.2 L1507.5,1229.8 L1511.0,1229.8 L1514.0,1229.4 L1515.0,1228.5 L1517.0,1225.9 L1518.0,1225.2 L1518.5,1225.2 L1519.5,1225.7 L1522.5,1228.6 L1526.0,1229.7 L1528.0,1229.8 L1529.0,1228.8 L1532.0,1223.6 L1535.0,1220.7 L1536.5,1219.6 L1539.0,1218.6 L1541.0,1218.0 L1542.5,1217.8 L1543.0,1218.0 L1544.0,1219.2 L1549.5,1229.0 L1550.5,1229.6 L1554.0,1230.3 L1556.5,1230.2 L1562.5,1228.8 L1574.0,1228.3 L1575.5,1227.7 L1579.5,1225.7 L1584.0,1224.9 L1587.5,1224.6 L1602.0,1225.0 L1605.5,1225.3 L1607.0,1226.0 L1613.0,1229.9 L1614.0,1230.3 L1615.5,1230.2 L1620.0,1228.8 L1630.5,1228.7 L1633.0,1228.1 L1636.0,1226.8 L1637.0,1226.0 L1639.5,1222.8 L1640.5,1221.9 L1642.5,1221.2 L1644.0,1221.0 L1644.5,1221.1 L1645.5,1221.8 L1651.5,1227.9 L1653.0,1228.7 L1655.0,1228.6 L1661.0,1227.7 L1671.0,1227.2 L1673.5,1227.6 L1678.5,1228.8 L1682.5,1230.4 L1684.0,1230.8 L1686.0,1230.7 L1692.0,1229.9 L1698.5,1230.3 L1700.0,1230.0 L1703.5,1228.2 L1706.0,1227.2 L1708.0,1226.7 L1709.0,1227.2 L1711.5,1229.4 L1712.5,1229.8 L1716.0,1230.2 L1719.0,1230.3 L1723.5,1229.2 L1724.0,1229.4 L1724.5,1229.9 L1726.5,1232.9 L1727.0,1233.3 L1727.5,1233.4 L1728.5,1232.5 L1730.0,1230.0 L1731.0,1228.8 L1736.0,1228.8" fill="none" stroke="#00FF00" stroke-width="6.0" stroke-linejoin="round" stroke-linecap="butt"/>
<text transform="translate(223.6,87.6) scale(0.9595,1)" font-size="66.8">C10-inulin</text>
<text transform="translate(223.6,166.6) scale(0.9595,1)" font-size="66.8">C12-inulin</text>
<text transform="translate(223.6,245.6) scale(0.9595,1)" font-size="66.8">C14-inulin</text>
<text transform="translate(223.6,324.6) scale(0.9595,1)" font-size="66.8">Inulin</text>
<rect x="62.0" y="22.2" width="1674.8" height="1243.3" fill="none" stroke="#000" stroke-width="4.2"/>
<path d="M66.2,65.1 H208.8" stroke="#515151" stroke-width="6" stroke-linecap="round" fill="none"/>
<path d="M66.2,144.1 H208.8" stroke="#FF4040" stroke-width="6" stroke-linecap="round" fill="none"/>
<path d="M66.2,223.2 H208.8" stroke="#0064E0" stroke-width="6" stroke-linecap="round" fill="none"/>
<path d="M66.2,302.3 H208.8" stroke="#00FF00" stroke-width="6" stroke-linecap="round" fill="none"/>
<path d="M352.2,423.0 V1115.5" stroke="#000" stroke-width="2.8" stroke-dasharray="15.3 14.41" stroke-dashoffset="0" fill="none"/>
<path d="M547.8,300.2 V992.6" stroke="#000" stroke-width="2.8" stroke-dasharray="15.3 14.41" stroke-dashoffset="0" fill="none"/>
<path d="M559.4,99.5 V1123.4" stroke="#000" stroke-width="2.8" stroke-dasharray="15.3 14.41" stroke-dashoffset="0" fill="none"/>
<path d="M597.9,297.2 V990.4" stroke="#000" stroke-width="2.8" stroke-dasharray="15.3 14.41" stroke-dashoffset="0" fill="none"/>
<path d="M1198.5,21.0 V1135" stroke="#000" stroke-width="2.8" stroke-dasharray="15.3 14.41" stroke-dashoffset="2.1" fill="none"/>
<path d="M1223,291.4 V1107.5 M1281.4,291.4 V1107.5 M1221.6,291.4 H1282.8 M1221.6,1107.5 H1282.8" stroke="#000" stroke-width="2.8" stroke-dasharray="15.6 14.1" fill="none"/>
<g font-size="53.0">
<text transform="translate(579.05,285.6) scale(0.985,1)">2849</text>
<text transform="translate(422.95,968.0) scale(0.985,1)">2958</text>
<text transform="translate(292.05,1168.6) scale(0.985,1)">3380</text>
<text transform="translate(500.55,1164.4) scale(0.985,1)">2929</text>
<text transform="translate(1096.70,1180.4) scale(0.985,1)">1560</text>
<text transform="translate(1221.30,1166) scale(0.985,1)">1437</text>
<text transform="translate(1387.30,1129.1) scale(0.985,1)">1070</text>
<text transform="translate(1546.75,1147.0) scale(0.985,1)">928</text>
</g>
<path d="M1570.5,1148.4 L1512,1183.3" stroke="#000" stroke-width="3" fill="none"/>
<path d="M1489.4,1196.8 L1513.6,1172.4 L1523.9,1185.6 Z" fill="#000"/>
</svg></body></html>
